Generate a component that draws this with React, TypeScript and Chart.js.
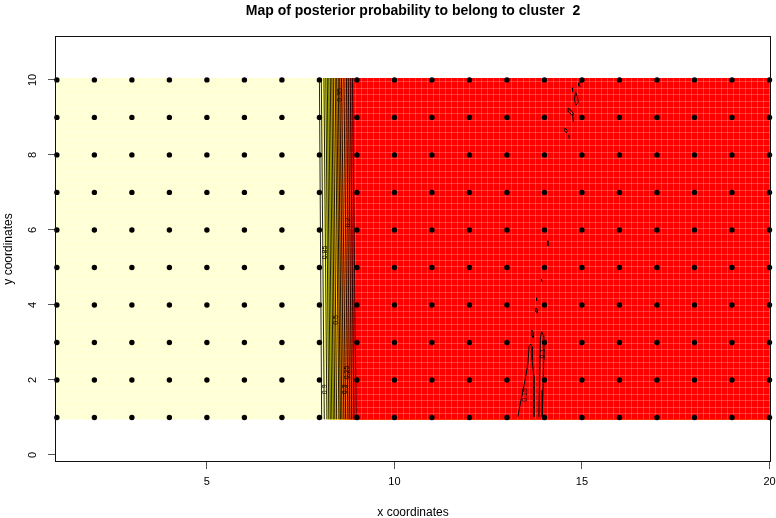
import { useEffect, useRef } from 'react';
import { Chart, registerables } from 'chart.js';

Chart.register(...registerables);

// ---------- data ----------
const chartTitle = 'Map of posterior probability to belong to cluster  2';
const xAxisTitle = 'x coordinates';
const yAxisTitle = 'y coordinates';

const xCoords = [1, 2, 3, 4, 5, 6, 7, 8, 9, 10, 11, 12, 13, 14, 15, 16, 17, 18, 19, 20];
const yCoords = [1, 2, 3, 4, 5, 6, 7, 8, 9, 10];
const xTicks = [5, 10, 15, 20];
const yTicks = [0, 2, 4, 6, 8, 10];
const xLimits = [0.95, 20.04];
const yLimits = [-0.187, 11.17];
const imageX = [0.95, 20.05];
const imageY = [0.95, 10.05];

// posterior probability contour levels, with x position at the bottom and top of the map
const contourLevels = [0.95, 0.9, 0.85, 0.8, 0.75, 0.7, 0.65, 0.6, 0.55, 0.5, 0.45, 0.4, 0.35, 0.3, 0.25, 0.2, 0.15, 0.1, 0.05];
const contourBottomX = [8.06, 8.13, 8.2, 8.25, 8.29, 8.33, 8.37, 8.41, 8.46, 8.52, 8.56, 8.6, 8.65, 8.7, 8.76, 8.81, 8.86, 8.92, 8.98];
const contourTopX = [8.0, 8.05, 8.12, 8.17, 8.21, 8.25, 8.29, 8.33, 8.37, 8.42, 8.46, 8.5, 8.54, 8.59, 8.65, 8.72, 8.77, 8.82, 8.88];

const labelTexts = ['0.35', '0.85', '0.2', '0.9', '0.5', '0.3', '0.25', '0.15', '0.1'];
const labelX = [8.55, 8.14, 8.76, 8.15, 8.45, 8.68, 8.75, 13.47, 13.97];
const labelY = [9.6, 5.4, 6.2, 1.75, 3.6, 1.75, 2.2, 1.6, 2.7];

const minorContours: number[][][] = [
  [[13.29, 1.02], [13.34, 1.29], [13.43, 1.73], [13.5, 2.09], [13.56, 2.45], [13.59, 2.89], [13.63, 2.96], [13.67, 2.89], [13.67, 2.53], [13.72, 2.09], [13.72, 1.02]],
  [[13.85, 1.02], [13.87, 2.0], [13.89, 3.07], [13.92, 3.29], [13.97, 3.2], [13.98, 2.53], [13.96, 1.73], [13.94, 1.02]],
  [[13.66, 3.33], [13.71, 3.25], [13.7, 3.12], [13.645, 3.2], [13.66, 3.33]],
  [[13.77, 3.92], [13.82, 3.87], [13.81, 3.79], [13.75, 3.84], [13.77, 3.92]],
  [[13.79, 4.19], [13.79, 4.11]],
  [[13.91, 4.69], [13.94, 4.61]],
  [[14.09, 5.71], [14.09, 5.57]],
  [[14.99, 9.95], [14.92, 9.92], [14.91, 9.84], [14.96, 9.83]],
  [[14.74, 9.79], [14.75, 9.68]],
  [[14.83, 9.68], [14.88, 9.55], [14.9, 9.39], [14.84, 9.33], [14.8, 9.47], [14.82, 9.63], [14.83, 9.68]],
  [[14.63, 9.25], [14.7, 9.2], [14.78, 9.09], [14.72, 9.07], [14.65, 9.15], [14.63, 9.25]],
  [[14.75, 9.07], [14.77, 8.88]],
  [[14.55, 8.72], [14.62, 8.64], [14.58, 8.59], [14.54, 8.64], [14.55, 8.72]],
  [[14.65, 8.53], [14.66, 8.43]],
];

// ---------- styles ----------
const heatColors = ['#FF0000', '#FF2000', '#FF4000', '#FF6000', '#FF8000', '#FF9F00', '#FFBF00', '#FFDF00', '#FFFF00', '#FFFF2A', '#FFFF80', '#FFFFD5'];
const FONT = '"Liberation Sans", Arial, Helvetica, sans-serif';
const seamStepX = 0.16;
const seamStepY = 0.17;

const colorFor = (p: number) => heatColors[Math.max(0, Math.min(heatColors.length - 1, Math.floor(p * heatColors.length)))];

const heatmapPlugin = {
  id: 'heatmap',
  beforeDatasetsDraw(chart: any) {
    const { ctx, chartArea, scales } = chart;
    const xs = scales.x;
    const ys = scales.y;
    const x0 = xs.getPixelForValue(imageX[0]);
    const x1 = xs.getPixelForValue(imageX[1]);
    const yb = ys.getPixelForValue(imageY[0]);
    const yt = ys.getPixelForValue(imageY[1]);
    ctx.save();
    ctx.beginPath();
    ctx.rect(chartArea.left, chartArea.top, chartArea.right - chartArea.left, chartArea.bottom - chartArea.top);
    ctx.clip();
    ctx.fillStyle = colorFor((1 + contourLevels[0]) / 2);
    ctx.fillRect(x0, yt, x1 - x0, yb - yt);
    for (let i = 0; i < contourLevels.length; i++) {
      const next = i + 1 < contourLevels.length ? contourLevels[i + 1] : 0;
      ctx.fillStyle = colorFor((contourLevels[i] + next) / 2);
      ctx.beginPath();
      ctx.moveTo(xs.getPixelForValue(contourBottomX[i]), yb);
      ctx.lineTo(xs.getPixelForValue(contourTopX[i]), yt);
      ctx.lineTo(x1, yt);
      ctx.lineTo(x1, yb);
      ctx.closePath();
      ctx.fill();
    }
    // raster seams of the image
    ctx.strokeStyle = 'rgba(255,255,255,0.22)';
    ctx.lineWidth = 1;
    ctx.beginPath();
    for (let v = imageX[0] + seamStepX; v < imageX[1]; v += seamStepX) {
      const p = Math.round(xs.getPixelForValue(v)) + 0.5;
      ctx.moveTo(p, yt);
      ctx.lineTo(p, yb);
    }
    for (let v = imageY[0] + seamStepY; v < imageY[1]; v += seamStepY) {
      const p = Math.round(ys.getPixelForValue(v)) + 0.5;
      ctx.moveTo(x0, p);
      ctx.lineTo(x1, p);
    }
    ctx.stroke();
    ctx.restore();
  },
  afterDatasetsDraw(chart: any) {
    const { ctx, scales } = chart;
    ctx.save();
    ctx.font = `7px ${FONT}`;
    ctx.fillStyle = '#000';
    ctx.textAlign = 'center';
    ctx.textBaseline = 'middle';
    labelTexts.forEach((t, i) => {
      ctx.save();
      ctx.translate(scales.x.getPixelForValue(labelX[i]), scales.y.getPixelForValue(labelY[i]));
      ctx.rotate(-Math.PI / 2);
      ctx.fillText(t, 0, 0);
      ctx.restore();
    });
    ctx.restore();
  },
  afterDraw(chart: any) {
    const { ctx, chartArea, scales } = chart;
    ctx.save();
    ctx.strokeStyle = '#111';
    ctx.lineWidth = 1;
    ctx.strokeRect(Math.round(chartArea.left) + 0.5, Math.round(chartArea.top) + 0.5, Math.round(chartArea.right - chartArea.left) - 1, Math.round(chartArea.bottom - chartArea.top) - 1);
    // rotated y tick labels (R style, parallel to the axis)
    ctx.font = `11px ${FONT}`;
    ctx.fillStyle = '#000';
    ctx.textAlign = 'center';
    ctx.textBaseline = 'middle';
    scales.y.ticks.forEach((t: any) => {
      ctx.save();
      ctx.translate(33, scales.y.getPixelForValue(t.value));
      ctx.rotate(-Math.PI / 2);
      ctx.fillText(String(t.value), 0, 0);
      ctx.restore();
    });
    ctx.restore();
  },
};

export default function App() {
  const ref = useRef<HTMLCanvasElement>(null);
  useEffect(() => {
    const canvas = ref.current;
    if (!canvas) return;
    const points = xCoords.flatMap((x) => yCoords.map((y) => ({ x, y })));
    const contourSets = contourLevels.map((lvl, i) => ({
      label: `level ${lvl}`,
      data: [
        { x: contourBottomX[i], y: imageY[0] },
        { x: contourTopX[i], y: imageY[1] },
      ],
      showLine: true,
      pointRadius: 0,
      borderColor: '#000',
      borderWidth: 0.85,
      order: 2,
    }));
    const minorSets = minorContours.map((c, i) => ({
      label: `minor ${i}`,
      data: c.map(([x, y]) => ({ x, y })),
      showLine: true,
      pointRadius: 0,
      borderColor: '#000',
      borderWidth: 1,
      order: 2,
    }));
    const chart = new Chart(canvas, {
      type: 'scatter',
      data: {
        datasets: [
          {
            label: 'sites',
            data: points,
            pointRadius: 2.7,
            pointBackgroundColor: '#000',
            pointBorderWidth: 0,
            clip: false as any,
            order: 1,
          },
          ...contourSets,
          ...minorSets,
        ] as any,
      },
      options: {
        animation: false,
        responsive: false,
        devicePixelRatio: 1,
        events: [],
        layout: { padding: { left: 0, right: 5, top: 0, bottom: 0 } },
        plugins: {
          legend: { display: false },
          tooltip: { enabled: false },
          title: {
            display: true,
            text: chartTitle,
            fullSize: false,
            color: '#000',
            font: { family: FONT, size: 14, weight: 'bold' },
            padding: { top: 3, bottom: 16.2 },
          },
        },
        scales: {
          x: {
            type: 'linear',
            position: 'bottom',
            min: xLimits[0],
            max: xLimits[1],
            afterBuildTicks: (s: any) => {
              s.ticks = xTicks.map((v) => ({ value: v }));
            },
            afterFit: (s: any) => {
              s.height = 56;
              s.paddingLeft = 0;
              s.paddingRight = 0;
            },
            grid: { display: true, drawOnChartArea: false, drawTicks: true, tickLength: 7, color: '#555', lineWidth: 1 },
            border: { display: false },
            ticks: { color: '#000', font: { family: FONT, size: 11 }, padding: 6, maxRotation: 0, autoSkip: false, callback: (v: any) => String(v) },
            title: { display: true, text: xAxisTitle, color: '#000', font: { family: FONT, size: 12 }, padding: { top: 0, bottom: -2 } },
          },
          y: {
            type: 'linear',
            position: 'left',
            min: yLimits[0],
            max: yLimits[1],
            afterBuildTicks: (s: any) => {
              s.ticks = yTicks.map((v) => ({ value: v }));
            },
            afterFit: (s: any) => {
              s.width = 55;
              s.paddingTop = 0;
              s.paddingBottom = 0;
            },
            grid: { display: true, drawOnChartArea: false, drawTicks: true, tickLength: 7, color: '#555', lineWidth: 1 },
            border: { display: false },
            ticks: { color: 'rgba(0,0,0,0)', font: { family: FONT, size: 11 }, padding: 4, autoSkip: false, callback: (v: any) => String(v) },
            title: { display: true, text: yAxisTitle, color: '#000', font: { family: FONT, size: 12 }, padding: { top: 1.8, bottom: 0 } },
          },
        },
      },
      plugins: [heatmapPlugin],
    });
    return () => chart.destroy();
  }, []);
  return (
    <div style={{ position: 'absolute', left: 0, top: 0, width: 776, height: 518, background: '#fff' }}>
      <canvas ref={ref} width={776} height={518} style={{ display: 'block', width: 776, height: 518 }} />
    </div>
  );
}
